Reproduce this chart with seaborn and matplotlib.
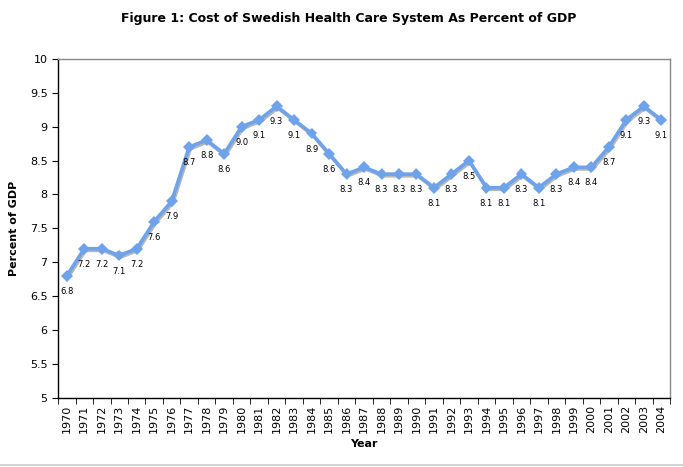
import matplotlib
matplotlib.use("Agg")
import matplotlib.pyplot as plt
import matplotlib.patheffects as pe
import seaborn as sns
import pandas as pd

years = list(range(1970, 2005))
pct_gdp = [6.8, 7.2, 7.2, 7.1, 7.2, 7.6, 7.9, 8.7, 8.8, 8.6,
           9.0, 9.1, 9.3, 9.1, 8.9, 8.6, 8.3, 8.4, 8.3, 8.3,
           8.3, 8.1, 8.3, 8.5, 8.1, 8.1, 8.3, 8.1, 8.3, 8.4,
           8.4, 8.7, 9.1, 9.3, 9.1]
y_ticks = [5, 5.5, 6, 6.5, 7, 7.5, 8, 8.5, 9, 9.5, 10]
y_tick_labels = ["5", "5.5", "6", "6.5", "7", "7.5", "8", "8.5", "9", "9.5", "10"]

df = pd.DataFrame({"Year": years, "Percent": pct_gdp})

sns.set_style("white")
plt.rcParams["font.family"] = ["DejaVu Sans"]
plt.rcParams["text.color"] = "black"
plt.rcParams["axes.labelcolor"] = "black"
plt.rcParams["xtick.color"] = "black"
plt.rcParams["ytick.color"] = "black"

fig = plt.figure(figsize=(6.83, 4.67), dpi=100)
ax = fig.add_axes([0.085, 0.148, 0.896, 0.726])

sns.lineplot(data=df, x="Year", y="Percent", ax=ax, color="#6ea3ec", linewidth=2.6,
             marker="D", markersize=6, markeredgewidth=0,
             path_effects=[pe.SimpleLineShadow(offset=(0.8, -1.2), shadow_color="#888888", alpha=0.6),
                           pe.Normal()])

for yr, v in zip(years, pct_gdp):
    ax.annotate(f"{v:.1f}", (yr, v), xytext=(0, -8), textcoords="offset points",
                ha="center", va="top", fontsize=6)

ax.set_xlim(1969.5, 2004.5)
ax.set_ylim(5, 10)
ax.set_yticks(y_ticks)
ax.set_yticklabels(y_tick_labels, fontsize=8)
ax.set_xticks(years)
ax.set_xticklabels([str(y) for y in years], rotation=90, fontsize=8)
ax.set_xticks([y + 0.5 for y in [1969] + years], minor=True)
ax.tick_params(axis="x", which="major", length=0, pad=5)
ax.tick_params(axis="x", which="minor", length=4, direction="out", color="black", bottom=True)
ax.tick_params(axis="y", length=4, direction="out", left=True, color="black")

for side in ["top", "right"]:
    ax.spines[side].set_color("#888888")
    ax.spines[side].set_linewidth(1)
for side in ["left", "bottom"]:
    ax.spines[side].set_color("black")
    ax.spines[side].set_linewidth(1)

ax.set_xlabel("Year", fontsize=8, fontweight="bold", labelpad=4)
ax.set_ylabel("Percent of GDP", fontsize=8, fontweight="bold", labelpad=8)
fig.suptitle("Figure 1: Cost of Swedish Health Care System As Percent of GDP",
             fontsize=9, fontweight="bold", x=0.51, y=0.975)

fig.add_artist(plt.Line2D([0, 1], [0.005, 0.005], color="#cccccc", linewidth=1.2))

fig.savefig("out.png", dpi=100)
